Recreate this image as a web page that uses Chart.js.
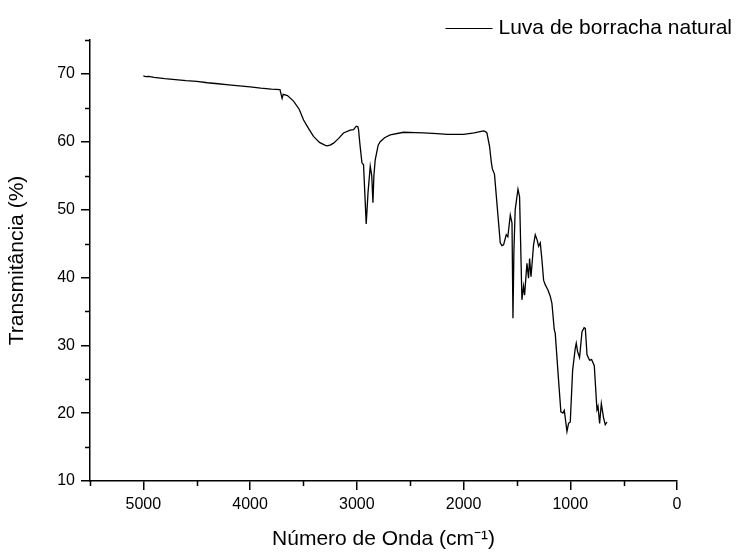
<!DOCTYPE html>
<html>
<head>
<meta charset="utf-8">
<script src="https://cdn.jsdelivr.net/npm/chart.js@4"></script>
<style>
  body { margin: 0; background: #fff; }
  #chart0 { display: block; }
</style>
</head>
<body>
<canvas id="chart0" width="737" height="554"></canvas>
<script>
// FTIR spectrum (wavenumber in cm-1, transmittance in %)
const seriesLabel = 'Luva de borracha natural';
const waveNumber = [
  5000, 4980, 4950, 4900, 4800, 4700, 4600, 4500, 4400, 4300, 4200, 4100, 4000, 3900, 3800, 3720,
  3700, 3690, 3650, 3593, 3540, 3499, 3450, 3406, 3350, 3300, 3280, 3250, 3218, 3170, 3125, 3062,
  3030, 3006, 2990, 2984, 2970, 2952, 2937, 2912, 2895, 2874, 2860, 2849, 2840, 2828, 2800, 2781,
  2740, 2687, 2562, 2450, 2375, 2250, 2150, 2000, 1900, 1813, 1795, 1781, 1756, 1740, 1730, 1719,
  1710, 1656, 1640, 1625, 1600, 1585, 1562, 1546, 1537, 1528, 1516, 1490, 1475, 1453, 1438, 1428,
  1406, 1391, 1381, 1368, 1344, 1328, 1310, 1297, 1281, 1265, 1250, 1234, 1210, 1187, 1172, 1150,
  1141, 1110, 1088, 1069, 1056, 1031, 1016, 1000, 978, 953, 944, 932, 913, 890, 870, 859,
  843, 819, 800, 775, 750, 740, 725, 709, 688, 672, 656
];
const transmittance = [
  69.7, 69.6, 69.65, 69.5, 69.3, 69.15, 69.0, 68.9, 68.7, 68.55, 68.4, 68.25, 68.1, 67.9, 67.75, 67.7,
  66.4, 67.0, 66.8, 66.0, 64.8, 63.2, 61.9, 60.8, 59.9, 59.5, 59.4, 59.5, 59.8, 60.5, 61.3, 61.7,
  61.8, 62.3, 62.2, 61.8, 59.5, 56.9, 56.6, 47.9, 52.5, 56.4, 55.0, 51.0, 55.0, 57.3, 59.5, 60.0,
  60.6, 61.0, 61.4, 61.35, 61.3, 61.2, 61.1, 61.1, 61.3, 61.6, 61.5, 61.3, 59.3, 57.0, 56.0, 55.6,
  55.2, 45.1, 44.7, 44.8, 46.3, 46.0, 49.2, 48.0, 34.0, 44.0, 50.0, 53.0, 51.9, 36.7, 38.7, 37.4,
  42.1, 39.9, 42.8, 40.1, 44.8, 46.3, 45.5, 44.6, 45.1, 42.5, 39.6, 38.9, 38.2, 37.2, 36.2, 32.3,
  31.8, 24.9, 20.2, 20.0, 20.4, 17.3, 18.5, 18.7, 26.3, 29.6, 30.3, 29.1, 28.2, 32.0, 32.6, 32.5,
  28.6, 27.8, 27.9, 27.0, 20.5, 21.0, 18.5, 21.4, 19.3, 18.3, 18.7
];

// axis ticks
const xMajorTicks = [5000, 4000, 3000, 2000, 1000, 0];
const yMajorTicks = [10, 20, 30, 40, 50, 60, 70];
const xMinorTicks = [500, 1500, 2500, 3500, 4500, 5500];
const yMinorTicks = [15, 25, 35, 45, 55, 65, 75];

const fontFamily = '"Liberation Sans", Arial, sans-serif';

// short outward minor ticks on both axes
const minorTicks = {
  id: 'minorTicks',
  afterDraw(chart) {
    const {ctx, scales: {x, y}} = chart;
    ctx.save();
    ctx.strokeStyle = '#000';
    ctx.lineWidth = 1.5;
    ctx.beginPath();
    xMinorTicks.forEach(v => {
      const px = Math.round(x.getPixelForValue(v)) + 0.5;
      ctx.moveTo(px, y.bottom);
      ctx.lineTo(px, y.bottom + 5);
    });
    yMinorTicks.forEach(v => {
      const py = Math.round(y.getPixelForValue(v)) + 0.5;
      ctx.moveTo(x.left, py);
      ctx.lineTo(x.left - 5, py);
    });
    ctx.stroke();
    ctx.restore();
  }
};

// legend in the top right corner: line sample + label
const legendLine = {
  id: 'legendLine',
  afterDraw(chart) {
    const ctx = chart.ctx;
    const ds = chart.data.datasets[0];
    const right = chart.width - 5;
    const y = 28;
    ctx.save();
    ctx.font = '21px ' + fontFamily;
    ctx.textAlign = 'right';
    ctx.textBaseline = 'middle';
    ctx.fillStyle = '#000';
    ctx.fillText(ds.label, right, y);
    const w = ctx.measureText(ds.label).width;
    ctx.strokeStyle = ds.borderColor;
    ctx.lineWidth = 1.2;
    ctx.beginPath();
    ctx.moveTo(right - w - 6 - 47, y + 0.5);
    ctx.lineTo(right - w - 6, y + 0.5);
    ctx.stroke();
    ctx.restore();
  }
};

let myChart = makeChart('chart0');

function makeChart(container) {
  let ctx = document.getElementById(container).getContext('2d');
  return new Chart(ctx, {
    type: 'scatter',
    data: {
      datasets: [{
        label: seriesLabel,
        data: waveNumber.map((w, i) => ({x: w, y: transmittance[i]})),
        showLine: true,
        borderColor: '#000',
        backgroundColor: '#000',
        borderWidth: 1.3,
        pointRadius: 0,
        tension: 0
      }]
    },
    options: {
      responsive: false,
      animation: false,
      devicePixelRatio: 1,
      layout: { padding: { top: 40, right: 60, bottom: 0, left: 0 } },
      plugins: {
        legend: { display: false },
        tooltip: { enabled: false }
      },
      scales: {
        x: {
          type: 'linear',
          reverse: true,
          min: 0,
          max: 5500,
          afterBuildTicks(scale) {
            scale.ticks = xMajorTicks.map(v => ({value: v}));
          },
          ticks: {
            autoSkip: false,
            maxRotation: 0,
            padding: 5,
            color: '#000',
            font: { family: fontFamily, size: 16 },
            callback: value => String(value)
          },
          grid: { drawOnChartArea: false, tickLength: 9, color: '#000', lineWidth: 1.5 },
          border: { color: '#000', width: 1.5 },
          title: {
            display: true,
            text: 'Número de Onda (cm⁻¹)',
            color: '#000',
            font: { family: fontFamily, size: 21 },
            padding: { top: 0, bottom: 2 }
          },
          afterFit(scale) { scale.height = 73; }
        },
        y: {
          min: 10,
          max: 75,
          afterBuildTicks(scale) {
            scale.ticks = yMajorTicks.map(v => ({value: v}));
          },
          ticks: {
            autoSkip: false,
            padding: 6,
            color: '#000',
            font: { family: fontFamily, size: 16 },
            callback: value => String(value)
          },
          grid: { drawOnChartArea: false, tickLength: 9, color: '#000', lineWidth: 1.5 },
          border: { color: '#000', width: 1.5 },
          title: {
            display: true,
            text: 'Transmitância (%)',
            color: '#000',
            font: { family: fontFamily, size: 21 },
            padding: { top: 5, bottom: 0 }
          },
          afterFit(scale) { scale.width = 90; }
        }
      }
    },
    plugins: [minorTicks, legendLine]
  });
}
</script>
</body>
</html>
